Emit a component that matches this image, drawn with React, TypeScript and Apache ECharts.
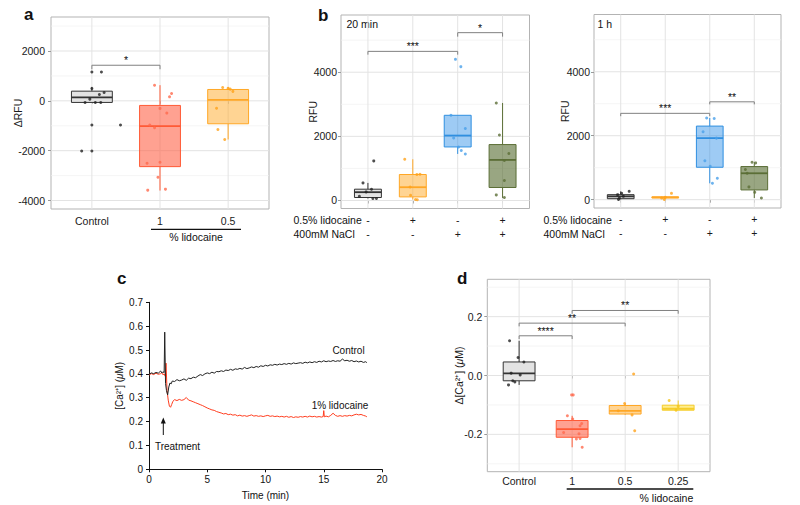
import React, { useEffect, useRef } from "react";
import * as echarts from "echarts";

const FONT = "'Liberation Sans', Arial, Helvetica, sans-serif";
const FS = 10.5;

// ---------- Panel a ----------
const A_CATS = ["Control", "1", "0.5"];
const A_BOX_STATS = [
  [-64, -64, 136, 388, 560],
  [-3600, -2640, -1012, -184, 628],
  [-1550, -920, 40, 456, 550],
];
const A_PTS_CONTROL = [[1, 1160], [1.14, 1160], [1, 496], [1.18, 336], [1.11, 256], [0.97, 68], [0.9, -64], [1.05, -64], [1.13, -64], [1, -972], [0.85, -2012], [1, -2012], [1.42, -972]];
const A_PTS_LIDO1 = [[1.92, 628], [2.17, 296], [2.14, 160], [2.0, -304], [2.1, -492], [1.85, -972], [1.92, -1080], [1.81, -2504], [2.0, -2464], [1.97, -3064], [1.82, -3584], [2.08, -3544]];
const A_PTS_LIDO05 = [[2.92, 536], [3.0, 500], [3.03, 470], [3.07, 380], [2.83, -300], [2.85, -1150], [2.95, -1550]];
const A_SIG = [[1, 2, 1428, 1268]];
const A_SIG_LABELS = ["*"];

// ---------- Panel b (20 min) ----------
const B_LIDO = ["-", "+", "-", "+"];
const B_NACL = ["-", "-", "+", "+"];
const B20_BOX_STATS = [
  [62, 93, 259, 352, 548],
  [31, 112, 414, 810, 1286],
  [1452, 1670, 2025, 2657, 2657],
  [80, 405, 1265, 1744, 3041],
];
const B20_PTS_CTRL = [[1.13, 1234], [0.89, 548], [1.08, 352], [0.96, 268], [0.81, 134], [1.11, 62], [1.19, 62]];
const B20_PTS_LIDO = [[1.82, 1286], [2.16, 819], [2.09, 810], [1.94, 420], [1.95, 165], [2.06, 31], [2.1, 25]];
const B20_PTS_NACL = [[2.95, 4402], [3.07, 4174], [2.85, 2657], [3.17, 2243], [2.91, 1950], [3.02, 1670], [3.08, 1557], [3.17, 1452]];
const B20_PTS_BOTH = [[3.86, 3041], [3.93, 2044], [4.14, 1464], [4.04, 1250], [4.04, 623], [3.86, 174], [4.04, 93]];
const B20_SIG = [[1, 3, 4651, 4548], [3, 4, 5234, 5110]];
const B20_SIG_LABELS = ["***", "*"];

// ---------- Panel b (1 h) ----------
const B1H_BOX_STATS = [
  [9, 31, 104, 157, 261],
  [50, 55, 72, 88, 88],
  [512, 1014, 1925, 2301, 2553],
  [53, 305, 826, 1036, 1171],
];
const B1H_PTS_CTRL = [[1.19, 261], [1.02, 198], [0.93, 157], [1.06, 104], [0.97, 53], [0.95, 9]];
const B1H_PTS_LIDO = [[2.14, 198], [2.0, 72], [1.98, 9], [1.92, 50]];
const B1H_PTS_NACL = [[2.93, 2553], [3.1, 2540], [2.85, 2126], [3.15, 1925], [2.89, 1215], [3.01, 1046], [3.17, 669], [3.06, 512]];
const B1H_PTS_BOTH = [[3.95, 1171], [4.03, 1150], [3.8, 942], [3.84, 826], [3.88, 399], [4.01, 230], [4.16, 53]];
const B1H_SIG = [[1, 3, 2700, 2610], [3, 4, 3060, 2980]];
const B1H_SIG_LABELS = ["***", "**"];

// ---------- Panel c ----------
const C_CONTROL = [
  [0, 0.398], [0.2, 0.404], [0.4, 0.401], [0.6, 0.406], [0.8, 0.403], [1.0, 0.412], [1.1, 0.404], [1.2, 0.409], [1.3, 0.405],
  [1.35, 0.575], [1.42, 0.36], [1.5, 0.33], [1.6, 0.312], [1.7, 0.345], [1.8, 0.362], [1.9, 0.358], [2.0, 0.37],
  [2.2, 0.368], [2.4, 0.376], [2.6, 0.371], [2.8, 0.374], [3.0, 0.379], [3.2, 0.373], [3.4, 0.382], [3.6, 0.38],
  [3.8, 0.386], [4.0, 0.384], [4.2, 0.391], [4.4, 0.397], [4.6, 0.393], [4.8, 0.4], [5.0, 0.404], [5.2, 0.401],
  [5.4, 0.407], [5.6, 0.403], [5.8, 0.41], [6.0, 0.409], [6.2, 0.413], [6.4, 0.41], [6.6, 0.416], [6.8, 0.414],
  [7.0, 0.419], [7.2, 0.415], [7.4, 0.421], [7.6, 0.419], [7.8, 0.423], [8.0, 0.42], [8.2, 0.427], [8.4, 0.422],
  [8.6, 0.425], [8.8, 0.429], [9.0, 0.426], [9.2, 0.431], [9.4, 0.428], [9.6, 0.434], [9.8, 0.431], [10.0, 0.436],
  [10.2, 0.433], [10.4, 0.438], [10.6, 0.436], [10.8, 0.44], [11.0, 0.437], [11.2, 0.441], [11.4, 0.439], [11.6, 0.443],
  [11.8, 0.44], [12.0, 0.444], [12.2, 0.441], [12.4, 0.446], [12.6, 0.443], [12.8, 0.445], [13.0, 0.447], [13.2, 0.444],
  [13.4, 0.449], [13.6, 0.446], [13.8, 0.45], [14.0, 0.447], [14.2, 0.451], [14.4, 0.448], [14.6, 0.453], [14.8, 0.45],
  [15.0, 0.455], [15.2, 0.451], [15.4, 0.454], [15.6, 0.452], [15.8, 0.456], [16.0, 0.452], [16.2, 0.455], [16.4, 0.453],
  [16.6, 0.462], [16.8, 0.455], [17.0, 0.457], [17.2, 0.453], [17.4, 0.456], [17.6, 0.451], [17.8, 0.454], [18.0, 0.45],
  [18.2, 0.453], [18.4, 0.448], [18.6, 0.451], [18.7, 0.447],
];
const C_LIDO = [
  [0, 0.395], [0.2, 0.401], [0.4, 0.397], [0.6, 0.403], [0.8, 0.398], [1.0, 0.401], [1.1, 0.405], [1.2, 0.396], [1.3, 0.4],
  [1.4, 0.39], [1.46, 0.445], [1.55, 0.33], [1.65, 0.29], [1.75, 0.265], [1.85, 0.26], [1.95, 0.272], [2.05, 0.285],
  [2.2, 0.292], [2.4, 0.288], [2.6, 0.293], [2.8, 0.289], [3.0, 0.292], [3.2, 0.301], [3.4, 0.29], [3.6, 0.287],
  [3.8, 0.283], [4.0, 0.279], [4.2, 0.275], [4.4, 0.271], [4.6, 0.267], [4.8, 0.262], [5.0, 0.257], [5.2, 0.253],
  [5.4, 0.249], [5.6, 0.247], [5.8, 0.242], [6.0, 0.239], [6.2, 0.236], [6.4, 0.232], [6.6, 0.234], [6.8, 0.229],
  [7.0, 0.231], [7.2, 0.227], [7.4, 0.229], [7.6, 0.224], [7.8, 0.227], [8.0, 0.223], [8.2, 0.225], [8.4, 0.222],
  [8.6, 0.225], [8.8, 0.228], [9.0, 0.223], [9.2, 0.225], [9.4, 0.222], [9.6, 0.224], [9.8, 0.221], [10.0, 0.224],
  [10.2, 0.226], [10.4, 0.222], [10.6, 0.224], [10.8, 0.221], [11.0, 0.223], [11.2, 0.22], [11.4, 0.222], [11.6, 0.219],
  [11.8, 0.222], [12.0, 0.218], [12.2, 0.221], [12.4, 0.217], [12.6, 0.22], [12.8, 0.218], [13.0, 0.221], [13.2, 0.219],
  [13.4, 0.222], [13.6, 0.219], [13.8, 0.223], [14.0, 0.22], [14.2, 0.222], [14.4, 0.219], [14.6, 0.221], [14.8, 0.219],
  [14.95, 0.221], [15.0, 0.246], [15.05, 0.22], [15.2, 0.223], [15.4, 0.22], [15.6, 0.226], [15.8, 0.235], [16.0, 0.226],
  [16.2, 0.222], [16.4, 0.225], [16.6, 0.222], [16.8, 0.225], [17.0, 0.223], [17.2, 0.226], [17.4, 0.224], [17.6, 0.228],
  [17.8, 0.231], [18.0, 0.228], [18.2, 0.23], [18.4, 0.226], [18.6, 0.223], [18.7, 0.22],
];

// ---------- Panel d ----------
const D_CATS = ["Control", "1", "0.5", "0.25"];
const D_BOX_STATS = [
  [-0.032, -0.018, 0.007, 0.046, 0.118],
  [-0.244, -0.21, -0.182, -0.153, -0.137],
  [-0.134, -0.131, -0.12, -0.102, -0.095],
  [-0.118, -0.118, -0.113, -0.101, -0.085],
];
const D_PTS_CTRL = [[0.82, 0.118], [0.98, 0.061], [1.09, 0.046], [0.85, 0.008], [1.02, 0.002], [0.88, -0.018], [0.92, -0.022], [0.8, -0.032]];
const D_PTS_LIDO1 = [[1.99, -0.066], [2.02, -0.066], [1.91, -0.137], [2.01, -0.148], [2.18, -0.163], [2.15, -0.171], [1.84, -0.194], [2.13, -0.198], [2.08, -0.216], [2.15, -0.214], [2.19, -0.244]];
const D_PTS_LIDO05 = [[3.16, 0.005], [2.99, -0.095], [2.87, -0.12], [3.13, -0.134], [3.18, -0.188]];
const D_PTS_LIDO025 = [[3.83, -0.085], [3.96, -0.118], [4.0, -0.105]];
const D_SIG = [[1, 2, 0.135, 0.124], [1, 3, 0.178, 0.167], [2, 4, 0.221, 0.21]];
const D_SIG_LABELS = ["****", "**", "**"];

// ---------- styles ----------
const CTRL = { fill: "#e3e3e3", border: "#333333", point: "#222222" };
const RED = { fill: "rgba(255,99,71,0.6)", border: "#ff5a36", point: "#ff6a4d" };
const ORANGE = { fill: "rgba(255,170,40,0.5)", border: "#ffa726", point: "#ffa31a" };
const BLUE = { fill: "rgba(40,140,230,0.45)", border: "#2f8fe0", point: "#4aa0ea" };
const GREEN = { fill: "rgba(85,107,47,0.6)", border: "#5b6e36", point: "#5b6e36" };
const YELLOW = { fill: "rgba(255,215,0,0.45)", border: "#f5cd2a", point: "#f5c518" };

const TXT = "#1a1a1a";

function gridLines(idx: number, xr: number[], yr: number[], hMajor: number[], hMinor: number[], vMajor: number[]) {
  const data: number[][] = [];
  hMinor.forEach((v) => data.push([1, v]));
  hMajor.forEach((v) => data.push([0, v]));
  vMajor.forEach((v) => data.push([2, v]));
  return {
    type: "custom",
    xAxisIndex: idx,
    yAxisIndex: idx,
    z: 1,
    silent: true,
    data,
    renderItem: (params: any, api: any) => {
      const kind = api.value(0);
      const v = api.value(1);
      let p1, p2;
      if (kind === 2) {
        p1 = api.coord([v, yr[0]]);
        p2 = api.coord([v, yr[1]]);
      } else {
        p1 = api.coord([xr[0], v]);
        p2 = api.coord([xr[1], v]);
      }
      return {
        type: "line",
        shape: { x1: p1[0], y1: p1[1], x2: p2[0], y2: p2[1] },
        style: { stroke: kind === 1 ? "#f1f1f1" : "#e3e3e3", lineWidth: kind === 1 ? 0.7 : 1 },
      };
    },
  };
}

function boxSeries(idx: number, stats: number[][], colors: any[]) {
  return {
    type: "custom",
    xAxisIndex: idx,
    yAxisIndex: idx,
    z: 2,
    silent: true,
    data: stats.map((s, i) => [i + 1, ...s]),
    renderItem: (params: any, api: any) => {
      const x = api.value(0);
      const lo = api.coord([x, api.value(1)]);
      const q1 = api.coord([x, api.value(2)]);
      const md = api.coord([x, api.value(3)]);
      const q3 = api.coord([x, api.value(4)]);
      const hi = api.coord([x, api.value(5)]);
      const w = api.size([0.6, 0])[0];
      const c = colors[params.dataIndex];
      return {
        type: "group",
        children: [
          { type: "line", shape: { x1: lo[0], y1: lo[1], x2: q1[0], y2: q1[1] }, style: { stroke: c.border, lineWidth: 1 } },
          { type: "line", shape: { x1: q3[0], y1: q3[1], x2: hi[0], y2: hi[1] }, style: { stroke: c.border, lineWidth: 1 } },
          { type: "rect", shape: { x: q3[0] - w / 2, y: q3[1], width: w, height: Math.max(q1[1] - q3[1], 1) }, style: { fill: c.fill, stroke: c.border, lineWidth: 1 } },
          { type: "line", shape: { x1: md[0] - w / 2, y1: md[1], x2: md[0] + w / 2, y2: md[1] }, style: { stroke: c.border, lineWidth: 1.8 } },
        ],
      };
    },
  };
}

function pointSeries(idx: number, pts: number[][], color: string) {
  return {
    type: "scatter",
    xAxisIndex: idx,
    yAxisIndex: idx,
    z: 3,
    silent: true,
    symbolSize: 3,
    itemStyle: { color },
    data: pts,
  };
}

function sigSeries(idx: number, sig: number[][], labels: string[]) {
  return {
    type: "custom",
    xAxisIndex: idx,
    yAxisIndex: idx,
    z: 4,
    silent: true,
    data: sig,
    renderItem: (params: any, api: any) => {
      const x1 = api.value(0);
      const x2 = api.value(1);
      const y = api.value(2);
      const yt = api.value(3);
      const a = api.coord([x1, yt]);
      const b = api.coord([x1, y]);
      const c = api.coord([x2, y]);
      const d = api.coord([x2, yt]);
      return {
        type: "group",
        children: [
          { type: "polyline", shape: { points: [a, b, c, d] }, style: { stroke: "#808080", lineWidth: 1, fill: "none" } },
          {
            type: "text",
            style: {
              text: labels[params.dataIndex],
              x: (b[0] + c[0]) / 2,
              y: b[1] + 0.5,
              align: "center",
              verticalAlign: "bottom",
              fontSize: 10.5,
              fontFamily: FONT,
              fill: "#111",
            },
          },
        ],
      };
    },
  };
}

function ggX(idx: number, n: number, labels: string[] | null, margin: number, formatter?: any) {
  const vals = Array.from({ length: n }, (_, i) => i + 1);
  return {
    type: "value",
    gridIndex: idx,
    min: 0.4,
    max: n + 0.6,
    axisLine: { show: false },
    splitLine: { show: false },
    axisTick: { show: true, customValues: vals, length: 3, lineStyle: { color: "#999", width: 1 } },
    axisLabel: {
      show: true,
      customValues: vals,
      margin,
      color: TXT,
      fontSize: FS,
      fontFamily: FONT,
      lineHeight: formatter ? 14 : 12,
      formatter: formatter || ((v: number) => (labels ? labels[Math.round(v) - 1] : "")),
    },
  };
}

function ggY(idx: number, min: number, max: number, ticks: number[], name: string, nameGap: number, margin: number, fmt: (v: number) => string) {
  return {
    type: "value",
    gridIndex: idx,
    min,
    max,
    name,
    nameLocation: "middle",
    nameGap,
    nameMoveOverlap: false,
    nameTextStyle: {
      fontSize: FS,
      color: TXT,
      fontFamily: FONT,
      rich: { i: { fontStyle: "italic", fontSize: FS, fontFamily: FONT, color: TXT } },
    },
    axisLine: { show: false },
    splitLine: { show: false },
    axisTick: { show: true, customValues: ticks, length: 3, lineStyle: { color: "#999", width: 1 } },
    axisLabel: { show: true, customValues: ticks, margin, color: TXT, fontSize: FS, fontFamily: FONT, formatter: fmt },
  };
}

function txt(text: string, x: number, y: number, align = "left", size = FS, weight = "normal") {
  return {
    type: "text",
    x,
    y,
    silent: true,
    style: { text, align, verticalAlign: "middle", fontSize: size, fontWeight: weight, fontFamily: FONT, fill: "#111" },
  };
}

export default function App() {
  const ref = useRef<HTMLDivElement>(null);
  useEffect(() => {
    document.body.style.margin = "0";
    if (!ref.current) return;
    const chart = echarts.init(ref.current, null, { renderer: "svg" });
    const fmtInt = (v: number) => String(Math.round(v));
    const fmt1 = (v: number) => (Math.round(v * 10) / 10).toFixed(1);
    const bLabel = (v: number) => `${B_LIDO[Math.round(v) - 1]}\n${B_NACL[Math.round(v) - 1]}`;

    const gridBox = { show: true, borderColor: "#b3b3b3", borderWidth: 1, backgroundColor: "#ffffff", containLabel: false, outerBoundsMode: "none" };

    const option: any = {
      animation: false,
      backgroundColor: "#ffffff",
      grid: [
        { ...gridBox, left: 51, top: 17, width: 218, height: 192 },
        { ...gridBox, left: 341, top: 15, width: 188.5, height: 193.5 },
        { ...gridBox, left: 594, top: 14.5, width: 187, height: 193.5 },
        { left: 149, top: 302.3, width: 233, height: 167, show: false, containLabel: false, outerBoundsMode: "none" },
        { ...gridBox, left: 487.3, top: 279.3, width: 222.7, height: 192.4 },
      ],
      xAxis: [
        ggX(0, 3, A_CATS, 6),
        ggX(1, 4, null, 4, bLabel),
        ggX(2, 4, null, 4, bLabel),
        {
          type: "value",
          gridIndex: 3,
          min: 0,
          max: 20,
          interval: 5,
          name: "Time (min)",
          nameLocation: "middle",
          nameGap: 21,
          nameMoveOverlap: false,
          nameTextStyle: { fontSize: 10, color: "#111", fontFamily: FONT },
          axisLine: { show: true, lineStyle: { color: "#111", width: 1 } },
          axisTick: { show: true, length: 3, lineStyle: { color: "#111" } },
          splitLine: { show: false },
          axisLabel: { margin: 5, fontSize: 10, color: "#111", fontFamily: FONT, formatter: fmtInt },
        },
        ggX(4, 4, D_CATS, 3),
      ],
      yAxis: [
        ggY(0, -4340, 3364, [-4000, -2000, 0, 2000], "ΔRFU", 28, 6, fmtInt),
        ggY(1, -250, 5785, [0, 2000, 4000], "RFU", 23, 4, fmtInt),
        ggY(2, -260, 5790, [0, 2000, 4000], "RFU", 24, 4, fmtInt),
        {
          type: "value",
          gridIndex: 3,
          min: 0,
          max: 0.7,
          interval: 0.1,
          name: "[Ca²⁺] ({i|μ}M)",
          nameLocation: "middle",
          nameGap: 25,
          nameMoveOverlap: false,
          nameTextStyle: {
            fontSize: 10,
            color: "#111",
            fontFamily: FONT,
            rich: { i: { fontStyle: "italic", fontSize: 10, fontFamily: FONT, color: "#111" } },
          },
          axisLine: { show: true, lineStyle: { color: "#111", width: 1 } },
          axisTick: { show: true, length: 3, lineStyle: { color: "#111" } },
          splitLine: { show: false },
          axisLabel: {
            margin: 6,
            fontSize: 10,
            color: "#111",
            fontFamily: FONT,
            formatter: (v: number) => String(Math.round(v * 10) / 10),
          },
        },
        ggY(4, -0.327, 0.327, [-0.2, 0, 0.2], "Δ[Ca²⁺] ({i|μ}M)", 23, 5, fmt1),
      ],
      series: [
        // panel a
        gridLines(0, [0.4, 3.6], [-4340, 3364], [-4000, -2000, 0, 2000], [-3000, -1000, 1000, 3000], [1, 2, 3]),
        boxSeries(0, A_BOX_STATS, [CTRL, RED, ORANGE]),
        pointSeries(0, A_PTS_CONTROL, CTRL.point),
        pointSeries(0, A_PTS_LIDO1, RED.point),
        pointSeries(0, A_PTS_LIDO05, ORANGE.point),
        sigSeries(0, A_SIG, A_SIG_LABELS),
        // panel b 20 min
        gridLines(1, [0.4, 4.6], [-250, 5785], [0, 2000, 4000], [1000, 3000, 5000], [1, 2, 3, 4]),
        boxSeries(1, B20_BOX_STATS, [CTRL, ORANGE, BLUE, GREEN]),
        pointSeries(1, B20_PTS_CTRL, CTRL.point),
        pointSeries(1, B20_PTS_LIDO, ORANGE.point),
        pointSeries(1, B20_PTS_NACL, BLUE.point),
        pointSeries(1, B20_PTS_BOTH, GREEN.point),
        sigSeries(1, B20_SIG, B20_SIG_LABELS),
        // panel b 1 h
        gridLines(2, [0.4, 4.6], [-260, 5790], [0, 2000, 4000], [1000, 3000, 5000], [1, 2, 3, 4]),
        boxSeries(2, B1H_BOX_STATS, [CTRL, ORANGE, BLUE, GREEN]),
        pointSeries(2, B1H_PTS_CTRL, CTRL.point),
        pointSeries(2, B1H_PTS_LIDO, ORANGE.point),
        pointSeries(2, B1H_PTS_NACL, BLUE.point),
        pointSeries(2, B1H_PTS_BOTH, GREEN.point),
        sigSeries(2, B1H_SIG, B1H_SIG_LABELS),
        // panel c
        {
          type: "line",
          xAxisIndex: 3,
          yAxisIndex: 3,
          data: C_CONTROL,
          showSymbol: false,
          silent: true,
          lineStyle: { color: "#222222", width: 1 },
          z: 3,
        },
        {
          type: "line",
          xAxisIndex: 3,
          yAxisIndex: 3,
          data: C_LIDO,
          showSymbol: false,
          silent: true,
          lineStyle: { color: "#ff3d1f", width: 1 },
          z: 2,
        },
        // panel d
        gridLines(4, [0.4, 4.6], [-0.327, 0.327], [-0.2, 0, 0.2], [-0.3, -0.1, 0.1, 0.3], [1, 2, 3, 4]),
        boxSeries(4, D_BOX_STATS, [CTRL, RED, ORANGE, YELLOW]),
        pointSeries(4, D_PTS_CTRL, CTRL.point),
        pointSeries(4, D_PTS_LIDO1, RED.point),
        pointSeries(4, D_PTS_LIDO05, ORANGE.point),
        pointSeries(4, D_PTS_LIDO025, YELLOW.point),
        sigSeries(4, D_SIG, D_SIG_LABELS),
      ],
      graphic: [
        // panel letters
        txt("a", 24, 14.5, "left", 17, "bold"),
        txt("b", 318, 15, "left", 17, "bold"),
        txt("c", 117, 278, "left", 17, "bold"),
        txt("d", 457, 278, "left", 17, "bold"),
        // panel a annotation
        { type: "line", silent: true, shape: { x1: 151, y1: 229.3, x2: 241, y2: 229.3 }, style: { stroke: "#111", lineWidth: 1.2 } },
        txt("% lidocaine", 196, 237, "center"),
        // panel b
        txt("20 min", 346.5, 23.5),
        txt("1 h", 597.5, 23.5),
        txt("0.5% lidocaine", 293.5, 219.5),
        txt("400mM NaCl", 293.5, 233.5),
        txt("0.5% lidocaine", 543.5, 219.5),
        txt("400mM NaCl", 543.5, 233.5),
        // panel c
        txt("Control", 348.5, 350.5, "center", 10),
        txt("1% lidocaine", 340, 405.5, "center", 10),
        { type: "line", silent: true, shape: { x1: 163.3, y1: 435, x2: 163.3, y2: 422 }, style: { stroke: "#111", lineWidth: 1 } },
        { type: "polygon", silent: true, shape: { points: [[163.3, 417.5], [160.8, 423.5], [165.8, 423.5]] }, style: { fill: "#111" } },
        txt("Treatment", 177.5, 446, "center", 10),
        // panel d
        { type: "line", silent: true, shape: { x1: 566.7, y1: 489, x2: 693.3, y2: 489 }, style: { stroke: "#111", lineWidth: 1.5 } },
        txt("% lidocaine", 693.3, 498.3, "right"),
      ],
    };
    chart.setOption(option);
    return () => chart.dispose();
  }, []);
  return <div ref={ref} style={{ width: 800, height: 505 }} />;
}
